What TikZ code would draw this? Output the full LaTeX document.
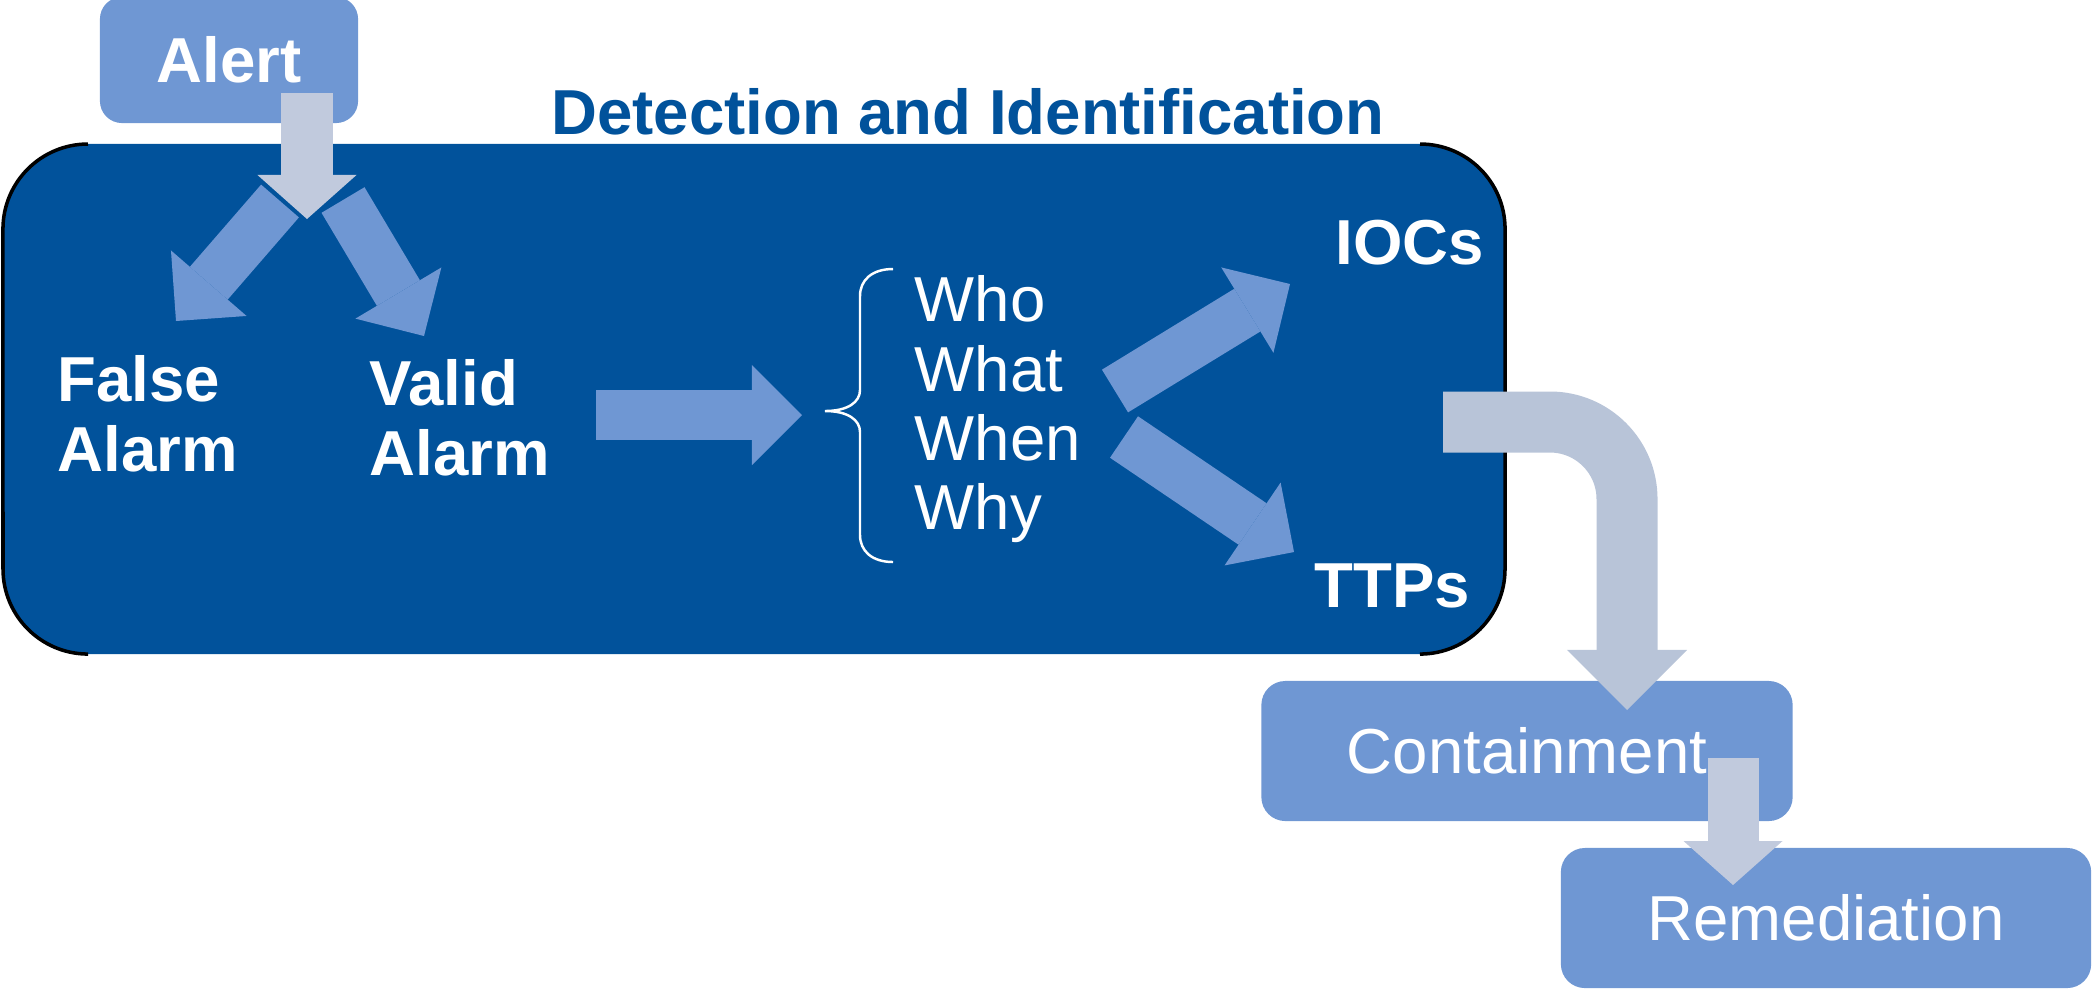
\documentclass[tikz,border=0pt]{standalone}
\usepackage{fontspec}
\setmainfont{Liberation Sans}
\usetikzlibrary{arrows.meta}

\definecolor{darkbox}{RGB}{1,82,155}
\definecolor{lightbox}{RGB}{111,151,211}
\definecolor{paleflow}{RGB}{184,196,216}
\definecolor{palestep}{RGB}{193,202,221}

\begin{document}
\begin{tikzpicture}[
  x=0.01cm, y=-0.01cm,
  txt/.style={text=white, inner sep=0pt, font=\fontsize{18.07pt}{19.7pt}\selectfont},
  heading/.style={txt, font=\fontsize{18.07pt}{19.7pt}\selectfont\bfseries},
  stepbox/.style={txt, fill=lightbox, rectangle, rounded corners=0.24cm, minimum width=5.31cm, minimum height=1.40cm},
  phase/.style={fill=darkbox, rectangle, rounded corners=0.85cm, minimum width=15.02cm, minimum height=5.10cm},
  rim/.style={draw=black, line width=1pt},
  flow/.style={draw=lightbox, line width=0.50cm, -{Triangle[width=1.00cm, length=0.50cm, line width=0pt]}},
  handoff/.style={draw=palestep, line width=0.51cm, -{Triangle[width=0.99cm, length=0.44cm, line width=0pt]}},
  bentflow/.style={draw=paleflow, line width=0.61cm, rounded corners=0.77cm, -{Triangle[width=1.20cm, length=0.60cm, line width=0pt]}}
]
    \useasboundingbox (0,0) rectangle (2092,990);

    % Detection and Identification
    \node (detect) at (754,399) [phase] {};
    \draw[rim] (88,144) arc[start angle=90, end angle=180, radius=0.85cm] -- (3,569)
        arc[start angle=180, end angle=270, radius=0.85cm];
    \draw[rim] (1420,144) arc[start angle=90, end angle=0, radius=0.85cm] -- (1505,569)
        arc[start angle=0, end angle=-90, radius=0.85cm];
    \node (title) at (968,134) [heading, text=darkbox, anchor=base] {Detection and Identification};

    % Alert
    \node (alert) at (229,60) [stepbox, heading, minimum width=2.58cm, minimum height=1.26cm, rounded corners=0.22cm] {Alert};

    % Alarms
    \node (falsealarm) at (57,355) [heading, anchor=north west, align=left] {False\\Alarm};
    \node (validalarm) at (369,359) [heading, anchor=north west, align=left] {Valid\\Alarm};

    % Questions
    \node (questions) at (914,275) [txt, anchor=north west, align=left] {Who\\What\\When\\Why};
    \draw[white, line width=0.7pt] (893,269) .. controls (872,269) and (860,280) .. (860,296) -- (860,390)
        .. controls (860,402) and (848,411) .. (825,411)
        .. controls (848,411) and (860,420) .. (860,432) -- (860,535)
        .. controls (860,551) and (872,562) .. (893,562);

    % IOCs and TTPs
    \node (iocs) at (1410,264) [heading, anchor=base] {IOCs};
    \node (ttps) at (1392,607) [heading, anchor=base] {TTPs};

    % Containment and Remediation
    \node (contain) at (1527,751) [stepbox] {Containment};
    \node (remedy) at (1826,918) [stepbox, minimum width=5.30cm] {Remediation};

    % Arrow ends
    \coordinate (falsetail) at (280,201);
    \coordinate (falsetip) at (176,321);
    \coordinate (validtail) at (343,200);
    \coordinate (validtip) at (424,336);
    \coordinate (asktail) at (596,415);
    \coordinate (asktip) at (802,415);
    \coordinate (ioctail) at (1115,391);
    \coordinate (ioctip) at (1290,284);
    \coordinate (ttptail) at (1124,437);
    \coordinate (ttptip) at (1294,552);
    \coordinate (alertdrop) at (307,93);
    \coordinate (split) at (307,219);
    \coordinate (leave) at (1443,422);
    \coordinate (containtop) at (1627,710);
    \coordinate (containdrop) at (1733,758);
    \coordinate (remedytop) at (1733,885);

    % Arrows
    \draw[flow] (falsetail) -- (falsetip);
    \draw[flow] (validtail) -- (validtip);
    \draw[flow] (asktail) -- (asktip);
    \draw[flow] (ioctail) -- (ioctip);
    \draw[flow] (ttptail) -- (ttptip);
    \draw[handoff] (alertdrop) -- (split);
    \draw[bentflow] (leave) -| (containtop);
    \draw[handoff] (containdrop) -- (remedytop);
\end{tikzpicture}
\end{document}
